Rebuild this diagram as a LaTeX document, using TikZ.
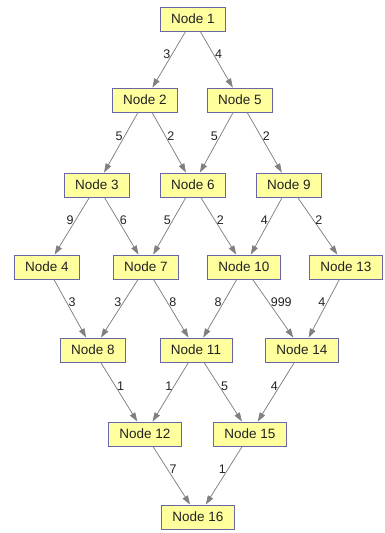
\documentclass[tikz,border=0pt]{standalone}
\usepackage{fontspec}
\setmainfont{Liberation Sans}
\usetikzlibrary{arrows.meta}
\definecolor{paper}{HTML}{FFFFFF}
\definecolor{boxfill}{HTML}{FFFF9E}
\definecolor{boxline}{HTML}{6666A8}
\definecolor{wire}{HTML}{808080}
\definecolor{ink}{HTML}{222222}
\newcommand{\PicW}{385}
\newcommand{\PicH}{533}
\newcommand{\WeightPos}{0.4}

\begin{document}
\begin{tikzpicture}[
    x=1pt, y=-1pt, ink,
    vertex/.style={draw=boxline, line width=0.9pt, fill=boxfill, inner xsep=11pt, minimum height=24pt, font=\fontsize{13.5}{15}\selectfont},
    edge/.style={-{Triangle[length=9pt, width=6pt]}, line width=0.75pt, draw=wire},
    weight/.style={pos=\WeightPos, inner sep=1.5pt, font=\fontsize{12.5}{14}\selectfont, text=ink},
  ]
\useasboundingbox[fill=paper] (0,0) rectangle (\PicW,\PicH);

% --- Nodes, one row after another --------------------------------------------
\foreach \n/\x/\y in {1/193/19,
    2/145/100, 5/240/100,
    3/97/185, 6/193/185, 9/289/185,
    4/47/267, 7/146/267, 10/244/267, 13/346/267,
    8/93/350, 11/196/350, 14/302/350,
    12/145/434, 15/250/434,
    16/198/517} {
  \node[vertex] (n\n) at (\x,\y) {Node \n};
}

% --- Weighted edges -------------------------------------------------------------
\foreach \a/\b/\w/\side in {1/2/3/left, 1/5/4/right,
    2/3/5/left, 2/6/2/right, 5/6/5/left, 5/9/2/right,
    3/4/9/left, 3/7/6/right, 6/7/5/left, 6/10/2/right, 9/10/4/left, 9/13/2/right,
    4/8/3/right, 7/8/3/left, 7/11/8/right, 10/11/8/left, 10/14/999/right, 13/14/4/left,
    8/12/1/right, 11/12/1/left, 11/15/5/right, 14/15/4/left,
    12/16/7/right, 15/16/1/left} {
  \draw[edge] (n\a) -- node[weight, \side] {\w} (n\b);
}

\end{tikzpicture}
\end{document}
